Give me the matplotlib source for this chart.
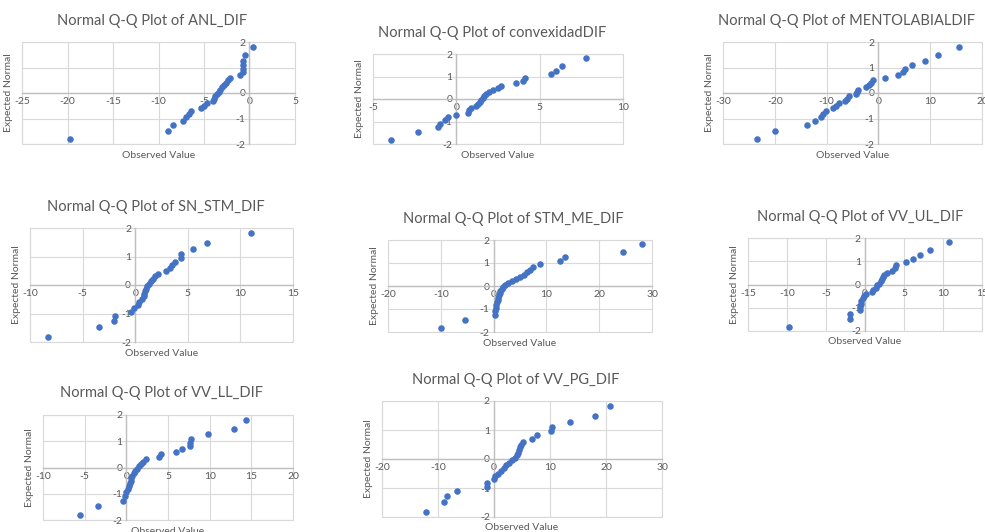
import matplotlib
matplotlib.use("Agg")
import matplotlib.pyplot as plt
from matplotlib.patches import Rectangle

plt.rcParams['font.family'] = ['Lato', 'DejaVu Sans']
plt.rcParams['axes.unicode_minus'] = False

# Expected normal values (same 28 ranks in every panel)
expected = [-1.82, -1.48, -1.26, -1.09, -0.95, -0.82, -0.70, -0.60, -0.50, -0.40,
            -0.31, -0.22, -0.13, -0.04, 0.04, 0.13, 0.22, 0.31, 0.40, 0.50,
            0.60, 0.70, 0.82, 0.95, 1.09, 1.26, 1.48, 1.82]

anl_dif = [-19.7, -9.0, -8.4, -7.3, -7.0, -6.6, -6.4, -5.3, -5.0, -4.7,
           -4.0, -3.9, -3.8, -3.6, -3.4, -3.2, -3.0, -2.8, -2.6, -2.4,
           -2.1, -1.0, -0.75, -0.72, -0.70, -0.68, -0.5, 0.4]
convexidad_dif = [-3.9, -2.3, -1.1, -1.0, -0.7, -0.5, 0.0, 0.7, 0.75, 0.85,
                  1.2, 1.3, 1.4, 1.5, 1.6, 1.65, 1.8, 1.95, 2.2, 2.5,
                  2.7, 3.6, 4.0, 4.1, 5.7, 6.0, 6.35, 7.75]
mentolabial_dif = [-23.4, -20.0, -13.7, -12.3, -11.1, -10.6, -10.2, -8.8, -8.2, -7.6,
                   -6.5, -6.0, -5.6, -4.4, -4.2, -4.0, -2.4, -1.9, -1.5, -1.1,
                   1.3, 3.7, 4.8, 5.2, 6.5, 9.0, 11.6, 15.6]
sn_stm_dif = [-8.3, -3.4, -2.0, -1.9, -0.4, -0.1, 0.3, 0.4, 0.6, 0.8,
              0.85, 0.9, 1.0, 1.1, 1.35, 1.5, 1.7, 1.9, 2.2, 2.9,
              3.3, 3.5, 3.75, 4.4, 4.4, 5.5, 6.8, 11.0]
stm_me_dif = [-9.9, -5.4, 0.3, 0.35, 0.4, 0.5, 0.6, 0.8, 0.9, 1.0,
              1.15, 1.3, 1.5, 1.8, 2.2, 2.8, 3.5, 4.2, 5.0, 5.7,
              6.3, 6.8, 7.4, 8.8, 12.6, 13.5, 24.5, 28.1]
vv_ul_dif = [-9.7, -1.95, -1.9, -0.7, -0.65, -0.55, -0.45, -0.3, -0.1, 0.1,
             0.9, 1.0, 1.4, 1.6, 1.8, 2.0, 2.2, 2.3, 2.4, 2.8,
             3.4, 3.8, 4.0, 5.3, 6.2, 7.0, 8.3, 10.8]
vv_ll_dif = [-5.6, -3.4, -0.4, -0.2, -0.05, 0.15, 0.3, 0.4, 0.5, 0.6,
             0.7, 0.9, 1.05, 1.3, 1.5, 1.8, 2.0, 2.3, 3.9, 4.2,
             6.0, 6.7, 7.6, 7.65, 7.8, 9.8, 12.9, 14.4]
vv_pg_dif = [-12.1, -8.9, -8.4, -6.6, -1.3, -1.25, -0.05, 0.25, 0.8, 1.2,
             1.7, 2.2, 2.6, 3.2, 3.8, 4.1, 4.3, 4.5, 4.7, 4.9,
             5.1, 6.8, 7.6, 10.2, 10.3, 13.6, 18.1, 20.8]

titles = ["ANL_DIF", "convexidadDIF", "MENTOLABIALDIF", "SN_STM_DIF",
          "STM_ME_DIF", "VV_UL_DIF", "VV_LL_DIF", "VV_PG_DIF"]
series = [anl_dif, convexidad_dif, mentolabial_dif, sn_stm_dif,
          stm_me_dif, vv_ul_dif, vv_ll_dif, vv_pg_dif]
x_ticks = [list(range(-25, 6, 5)), list(range(-5, 11, 5)), list(range(-30, 21, 10)),
           list(range(-10, 16, 5)), list(range(-20, 31, 10)), list(range(-15, 16, 5)),
           list(range(-10, 21, 5)), list(range(-20, 31, 10))]
y_ticks = [-2, -1, 0, 1, 2]

W, H = 985, 532
# layout in pixels: left, right, top, bottom of plot area; title centre x, y
boxes = [(22, 295, 42, 144, 152, 21),
         (373, 623, 54, 144, 492, 33),
         (723, 982, 42, 144, 847, 21),
         (30, 293, 228, 342, 156, 207),
         (388, 652, 240, 332, 513, 219),
         (748, 982, 238, 331, 860, 217),
         (43, 293, 415, 520, 162, 393),
         (382, 662, 401, 517, 516, 380)]

fig = plt.figure(figsize=(W / 100, H / 100), dpi=100)
fig.patch.set_facecolor('white')

TXT = '#595959'
GRID = '#d9d9d9'
AXC = '#bfbfbf'
BLUE = '#4472C4'

for name, xs, xt, (l, r, t, b, tx, ty) in zip(titles, series, x_ticks, boxes):
    ax = fig.add_axes([l / W, 1 - b / H, (r - l) / W, (b - t) / H])
    ax.set_xlim(xt[0], xt[-1])
    ax.set_ylim(-2, 2)
    ax.set_xticks(xt)
    ax.set_yticks(y_ticks)
    ax.set_xticklabels([str(v) for v in xt])
    ax.set_yticklabels([str(v) for v in y_ticks])
    ax.grid(True, color=GRID, lw=0.8, zorder=0)
    ax.set_axisbelow(True)
    for s in ['top', 'right']:
        ax.spines[s].set_visible(False)
    ax.spines['left'].set_position(('data', 0))
    ax.spines['bottom'].set_position(('data', 0))
    ax.spines['left'].set_color(AXC)
    ax.spines['bottom'].set_color(AXC)
    ax.spines['left'].set_linewidth(1.0)
    ax.spines['bottom'].set_linewidth(1.0)
    ax.add_patch(Rectangle((0, 0), 1, 1, transform=ax.transAxes, fill=False,
                           ec=GRID, lw=0.8, clip_on=False, zorder=0.5))
    ax.tick_params(length=0, labelsize=7.5, colors=TXT, pad=3)
    ax.scatter(xs, expected, s=22, color=BLUE, zorder=3, clip_on=False,
               linewidths=0)
    ax.set_xlabel('Observed Value', fontsize=7.5, color=TXT)
    ax.xaxis.set_label_coords(0.5, -11 / (b - t), transform=ax.transAxes)
    ax.xaxis.label.set_verticalalignment('center')
    ax.set_ylabel('Expected Normal', fontsize=7.5, color=TXT)
    ax.yaxis.set_label_coords(-9 / (r - l), 0.5, transform=ax.transAxes)
    fig.text(tx / W, 1 - ty / H, 'Normal Q-Q Plot of ' + name, ha='center',
             va='center', fontsize=10.5, color=TXT)

fig.savefig('out.png', dpi=100, facecolor='white')
